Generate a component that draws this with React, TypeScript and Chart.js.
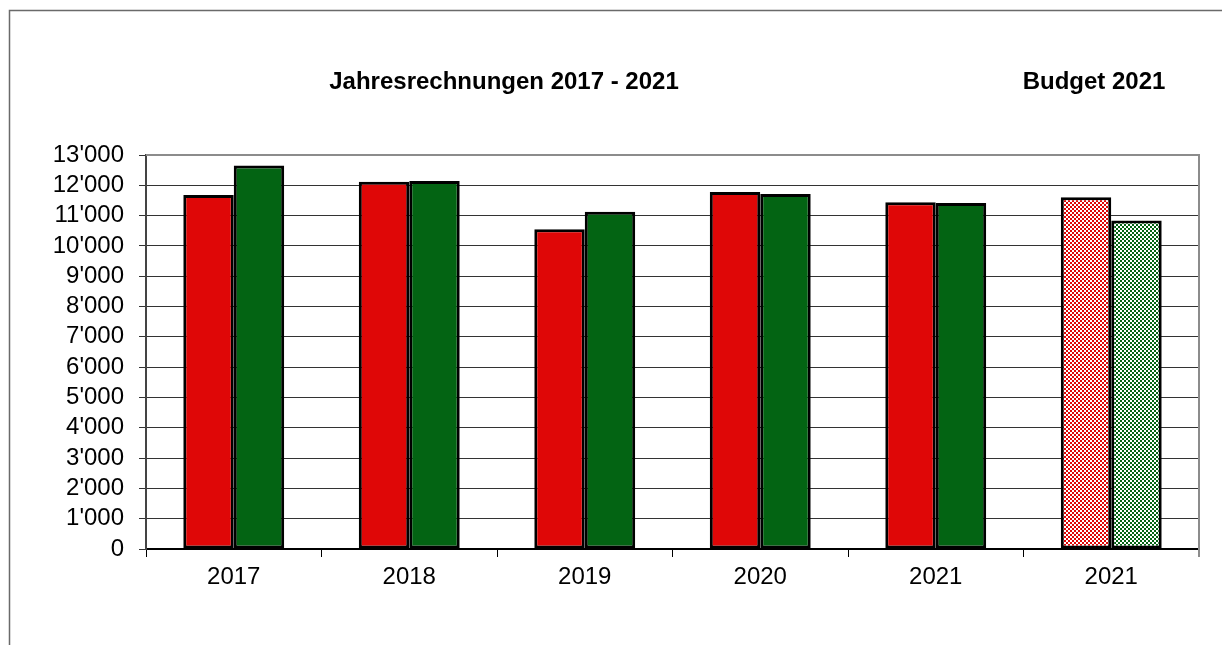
import React, { useEffect, useRef } from "react";
import { Chart, registerables } from "chart.js";

Chart.register(...registerables);

const categories = ["2017", "2018", "2019", "2020", "2021", "2021"];
const redValues = [11680, 12120, 10550, 11780, 11440, 11610];
const greenValues = [12650, 12140, 11130, 11710, 11420, 10840];
const titleLeft = "Jahresrechnungen 2017 - 2021";
const titleRight = "Budget 2021";

const RED = "#df0707";
const GREEN = "#036413";
const FONT = "'Liberation Sans', Arial, sans-serif";

function makePattern(ctx: CanvasRenderingContext2D, color: string) {
  const c = document.createElement("canvas");
  c.width = 4;
  c.height = 4;
  const p = c.getContext("2d")!;
  p.fillStyle = "#ffffff";
  p.fillRect(0, 0, 4, 4);
  p.fillStyle = color;
  p.fillRect(0, 0, 2, 2);
  p.fillRect(2, 2, 2, 2);
  return ctx.createPattern(c, "repeat");
}

function fmt(v: number) {
  const s = Math.round(v).toString();
  return s.replace(/\B(?=(\d{3})+(?!\d))/g, "'");
}

export default function App() {
  const ref = useRef<HTMLCanvasElement | null>(null);
  useEffect(() => {
    const canvas = ref.current!;
    const ctx = canvas.getContext("2d")!;
    const redPat = makePattern(ctx, RED);
    const greenPat = makePattern(ctx, GREEN);
    const redBg = redValues.map((_, i) => (i === redValues.length - 1 ? redPat : RED));
    const greenBg = greenValues.map((_, i) => (i === greenValues.length - 1 ? greenPat : GREEN));

    const framePlugin = {
      id: "frame",
      beforeDraw(chart: any) {
        const c = chart.ctx;
        c.save();
        c.fillStyle = "#ffffff";
        c.fillRect(0, 0, chart.width, chart.height);
        c.strokeStyle = "#6a6a6a";
        c.lineWidth = 1.5;
        c.beginPath();
        c.moveTo(9.5, chart.height);
        c.lineTo(9.5, 10.5);
        c.lineTo(chart.width, 10.5);
        c.stroke();
        c.restore();
      },
      beforeDatasetsDraw(chart: any) {
        const a = chart.chartArea;
        const c = chart.ctx;
        c.save();
        c.strokeStyle = "#8c8c8c";
        c.lineWidth = 2;
        c.beginPath();
        c.moveTo(a.left, a.top);
        c.lineTo(a.right, a.top);
        c.lineTo(a.right, a.bottom + 8);
        c.stroke();
        c.restore();
      },
      afterDraw(chart: any) {
        const c = chart.ctx;
        c.save();
        c.fillStyle = "#000";
        c.font = `bold 24px ${FONT}`;
        c.textAlign = "center";
        c.textBaseline = "alphabetic";
        c.fillText(titleLeft, 504, 89);
        c.fillText(titleRight, 1094, 89);
        c.restore();
      },
    };

    const chart = new Chart(canvas, {
      type: "bar",
      data: {
        labels: categories,
        datasets: [
          {
            data: redValues,
            backgroundColor: redBg as any,
            borderColor: "#000",
            borderWidth: 3,
            borderSkipped: false,
            categoryPercentage: 0.575,
            barPercentage: 1,
          },
          {
            data: greenValues,
            backgroundColor: greenBg as any,
            borderColor: "#000",
            borderWidth: 3,
            borderSkipped: false,
            categoryPercentage: 0.575,
            barPercentage: 1,
          },
        ],
      },
      options: {
        responsive: false,
        animation: false,
        layout: { padding: { left: 0, right: 23, top: 155, bottom: 36 } },
        plugins: {
          legend: { display: false },
          title: { display: false },
          tooltip: { enabled: false },
        },
        scales: {
          x: {
            afterFit: (s: any) => {
              s.height = 60;
            },
            grid: {
              offset: true,
              drawOnChartArea: false,
              drawTicks: true,
              tickLength: 8,
              color: "#000",
              lineWidth: 1,
            },
            border: { display: true, color: "#000", width: 2 },
            ticks: {
              color: "#000",
              font: { family: FONT, size: 24 },
              padding: 6,
              maxRotation: 0,
              autoSkip: false,
            },
          },
          y: {
            min: 0,
            max: 13000,
            afterFit: (s: any) => {
              s.width = 146;
            },
            grid: {
              color: "#333",
              lineWidth: 1,
              tickLength: 7,
            },
            border: { display: true, color: "#444", width: 2 },
            ticks: {
              stepSize: 1000,
              autoSkip: false,
              color: "#000",
              font: { family: FONT, size: 24, lineHeight: 1 },
              padding: 15,
              callback: (v: any) => fmt(Number(v)),
            },
          },
        },
      },
      plugins: [framePlugin],
    });
    return () => chart.destroy();
  }, []);

  return (
    <div style={{ position: "fixed", left: 0, top: 0, width: 1222, height: 645, background: "#fff" }}>
      <canvas ref={ref} width={1222} height={645} style={{ display: "block" }} />
    </div>
  );
}
